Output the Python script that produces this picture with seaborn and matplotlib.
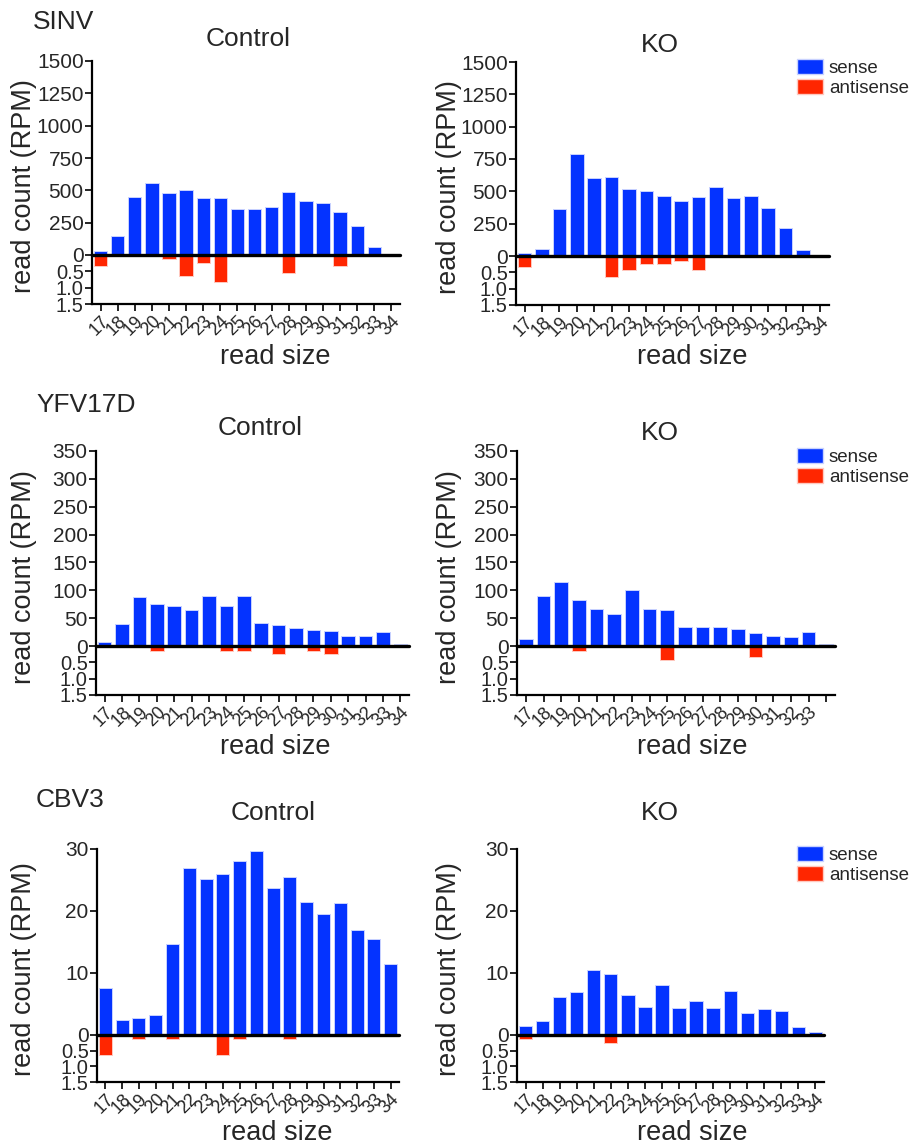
import numpy as np
import pandas as pd
import seaborn as sns
import matplotlib.pyplot as plt
from matplotlib.patches import Patch

sns.set_style("white")
plt.rcParams['font.family'] = ['Liberation Sans', 'DejaVu Sans']

# read sizes (x categories)
sizes = ["17", "18", "19", "20", "21", "22", "23", "24", "25",
         "26", "27", "28", "29", "30", "31", "32", "33", "34"]

# SINV
sinv_ctrl_sense = [31, 147, 451, 559, 482, 500, 438, 441, 356, 356, 374, 490, 420, 399, 332, 227, 62, 8]
sinv_ctrl_anti = [0.34, 0, 0, 0, 0.13, 0.63, 0.23, 0.84, 0, 0, 0, 0.54, 0, 0, 0.34, 0, 0, 0]
sinv_ko_sense = [23, 54, 360, 788, 601, 614, 516, 503, 467, 426, 457, 532, 452, 462, 375, 213, 46, 0]
sinv_ko_anti = [0.35, 0, 0, 0, 0, 0.64, 0.44, 0.26, 0.26, 0.14, 0.44, 0, 0, 0, 0, 0, 0, 0]

# YFV17D
yfv_ctrl_sense = [6.6, 39, 87.5, 76, 72, 65, 90, 72, 89, 42, 38, 33, 29, 27, 18.6, 18.6, 26, 4]
yfv_ctrl_anti = [0, 0, 0, 0.15, 0, 0, 0, 0.15, 0.15, 0, 0.24, 0, 0.15, 0.24, 0, 0, 0, 0]
yfv_ko_sense = [12, 89, 114, 83, 66.5, 58, 100, 67, 65, 35, 33.5, 33.5, 30, 23, 18.6, 16, 26, 4]
yfv_ko_anti = [0, 0, 0, 0.14, 0, 0, 0, 0, 0.44, 0, 0, 0, 0, 0.34, 0, 0, 0, 0]

# CBV3
cbv_ctrl_sense = [7.57, 2.5, 2.7, 3.3, 14.65, 26.9, 25.1, 25.9, 28.1, 29.6, 23.7, 25.5, 21.5, 19.5, 21.3, 17.0, 15.5, 11.5]
cbv_ctrl_anti = [0.64, 0, 0.14, 0, 0.14, 0, 0, 0.64, 0.14, 0, 0, 0.14, 0, 0, 0, 0, 0, 0]
cbv_ko_sense = [1.45, 2.2, 6.2, 7.0, 10.5, 9.9, 6.5, 4.5, 8.05, 4.3, 5.5, 4.3, 7.1, 3.6, 4.2, 3.9, 1.3, 0.5]
cbv_ko_anti = [0.14, 0, 0, 0, 0, 0.24, 0, 0, 0, 0, 0, 0, 0, 0, 0, 0, 0, 0]

BLUE = "#0433ff"
RED = "#ff2600"
W, H = 910, 1146

fig = plt.figure(figsize=(W / 100, H / 100), dpi=100)


def px_axes(x0, x1, top, bottom):
    return fig.add_axes([x0 / W, 1 - bottom / H, (x1 - x0) / W, (bottom - top) / H])


def panel(sense, anti, ymax, ystep, box, title, title_xy, xlabel_x, xlabel_y, labels=None):
    x0, x1, top, zero, bottom = box
    ax_top = px_axes(x0, x1, top, zero)
    ax_bot = px_axes(x0, x1, zero, bottom)

    df = pd.DataFrame({"size": sizes, "sense": sense, "antisense": anti})
    sns.barplot(data=df, x="size", y="sense", color=BLUE, saturation=1, width=0.78,
                edgecolor="#c9d2ff", linewidth=0.7, ax=ax_top)
    sns.barplot(data=df, x="size", y="antisense", color=RED, saturation=1, width=0.78,
                edgecolor="#ffc9c0", linewidth=0.7, ax=ax_bot)

    ax_top.set_ylim(0, ymax)
    ax_top.set_yticks(np.arange(0, ymax + ystep / 2, ystep))
    ax_top.set_xticks([])
    ax_top.set_xlabel("")
    ax_top.set_ylabel("")
    for s in ["top", "right", "bottom"]:
        ax_top.spines[s].set_visible(False)
    ax_top.spines["left"].set_linewidth(1.6)
    ax_top.spines["left"].set_color("black")

    ax_bot.set_ylim(1.5, 0)
    ax_bot.set_yticks([0.5, 1.0, 1.5])
    ax_bot.set_yticklabels(["0.5", "1.0", "1.5"])
    ax_bot.set_xlim(-0.5, len(sizes) - 0.5)
    ax_top.set_xlim(-0.5, len(sizes) - 0.5)
    ax_bot.set_xticks(range(len(sizes)))
    ax_bot.set_xticklabels(labels if labels is not None else sizes, rotation=45,
                           ha="right", rotation_mode="anchor", fontsize=13)
    ax_bot.set_xlabel("")
    ax_bot.set_ylabel("")
    for s in ["top", "right"]:
        ax_bot.spines[s].set_visible(False)
    for s in ["left", "bottom"]:
        ax_bot.spines[s].set_linewidth(1.6)
        ax_bot.spines[s].set_color("black")

    # thick zero line between sense and antisense
    ax_bot.axhline(0, color="black", lw=2.4, zorder=10, clip_on=False)

    ax_top.tick_params(axis="y", direction="out", length=5, width=1.4, labelsize=15, pad=1, left=True)
    ax_bot.tick_params(axis="y", direction="out", length=5, width=1.4, labelsize=14.5, pad=1, left=True)
    ax_bot.tick_params(axis="x", direction="out", length=5, width=1.4, pad=1, bottom=True)
    ax_top.set_facecolor("none")
    ax_bot.set_facecolor("none")

    fig.text(title_xy[0] / W, 1 - title_xy[1] / H, title, fontsize=19, ha="center", va="center")
    fig.text(xlabel_x / W, 1 - xlabel_y / H, "read size", fontsize=19.5, ha="center", va="center")
    return ax_top, ax_bot


rows = [
    ("SINV", 1500, 250, (33, 22),
     [sinv_ctrl_sense, sinv_ctrl_anti, (92, 400, 61, 255, 304), (248, 39), 275, 357],
     [sinv_ko_sense, sinv_ko_anti, (516, 829, 62, 256, 305), (660, 45), 692, 357], None),
    ("YFV17D", 350, 50, (36, 405),
     [yfv_ctrl_sense, yfv_ctrl_anti, (96, 409, 451, 646, 695), (260, 428), 275, 747],
     [yfv_ko_sense, yfv_ko_anti, (517, 835, 451, 646, 695), (660, 433), 692, 747],
     sizes[:-1] + [""]),
    ("CBV3", 30, 10, (36, 800),
     [cbv_ctrl_sense, cbv_ctrl_anti, (97, 399, 849, 1035, 1082), (273, 813), 277, 1133],
     [cbv_ko_sense, cbv_ko_anti, (517, 824, 849, 1035, 1082), (660, 813), 692, 1133], None),
]

for virus, ymax, ystep, vxy, ctrl, ko, ko_labels in rows:
    fig.text(vxy[0] / W, 1 - vxy[1] / H, virus, fontsize=19, ha="left", va="center")
    s, a, box, txy, lx, ly = ctrl
    panel(s, a, ymax, ystep, box, "Control", txy, lx, ly)
    s, a, box, txy, lx, ly = ko
    panel(s, a, ymax, ystep, box, "KO", txy, lx, ly, labels=ko_labels)

    # y labels
    ctrl_box = ctrl[2]
    fig.text(24 / W, 1 - ((ctrl_box[2] + ctrl_box[4]) / 2 + 4) / H, "read count (RPM)",
             rotation=90, fontsize=19.5, ha="center", va="center")
    fig.text(449 / W, 1 - ((box[2] + box[4]) / 2 + 4) / H, "read count (RPM)",
             rotation=90, fontsize=19.5, ha="center", va="center")

    # legend
    handles = [Patch(facecolor=BLUE, edgecolor="#c9d2ff", label="sense"),
               Patch(facecolor=RED, edgecolor="#ffc9c0", label="antisense")]
    leg_top = box[2] - 3
    fig.legend(handles=handles, loc="upper left", bbox_to_anchor=(797 / W, 1 - leg_top / H),
               frameon=False, fontsize=13.5, handlelength=1.4, handleheight=0.85,
               handletextpad=0.3, labelspacing=0.12, borderpad=0, borderaxespad=0)

fig.savefig("out.png", dpi=100, facecolor="white")
